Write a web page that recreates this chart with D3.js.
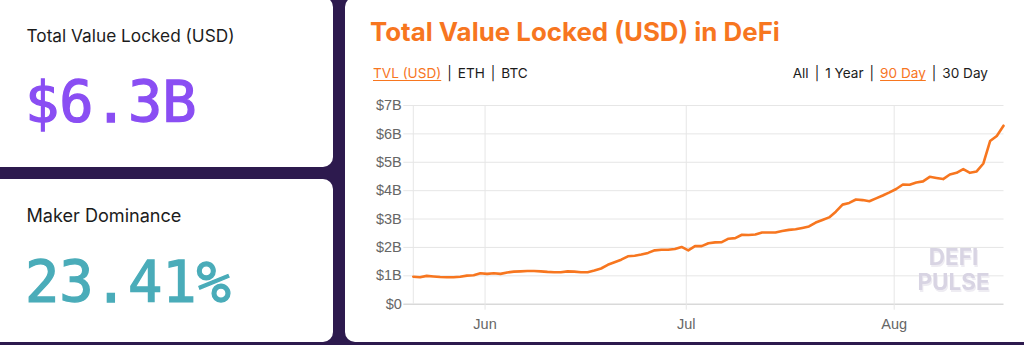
<!DOCTYPE html>
<html>
<head>
<meta charset="utf-8">
<script src="https://cdn.jsdelivr.net/npm/d3@7"></script>
<style>
  html, body { margin: 0; padding: 0; background: #2d1a4e; }
  svg { display: block; }
  text { white-space: pre; }
</style>
</head>
<body>
<svg id="chart" width="1024" height="345"></svg>
<script>
// ---------------- DATA ----------------
const startDate = "2020-05-21T09:00:00";   // first daily point
const tvlBillions = [
  0.95, 0.93, 0.98, 0.96, 0.94, 0.93, 0.93, 0.95, 0.99, 1.00,
  1.07, 1.05, 1.07, 1.05, 1.10, 1.13, 1.14, 1.15, 1.15, 1.14,
  1.12, 1.11, 1.11, 1.14, 1.13, 1.11, 1.11, 1.17, 1.24, 1.37,
  1.46, 1.55, 1.67, 1.69, 1.73, 1.79, 1.88, 1.90, 1.90, 1.93,
  2.00, 1.88, 2.03, 2.03, 2.13, 2.16, 2.17, 2.29, 2.31, 2.43,
  2.42, 2.44, 2.51, 2.51, 2.51, 2.56, 2.60, 2.62, 2.67, 2.72,
  2.86, 2.95, 3.04, 3.24, 3.49, 3.55, 3.67, 3.65, 3.61, 3.71,
  3.81, 3.92, 4.04, 4.20, 4.19, 4.27, 4.31, 4.47, 4.43, 4.39,
  4.55, 4.61, 4.74, 4.61, 4.66, 4.94, 5.73, 5.91, 6.27
];
const yTicks = [0, 1, 2, 3, 4, 5, 6, 7];
const yTickLabels = ["$0", "$1B", "$2B", "$3B", "$4B", "$5B", "$6B", "$7B"];
const xTickLabels = ["Jun", "Jul", "Aug"];
const chartTitle = "Total Value Locked (USD) in DeFi";
const unitLinks = ["TVL (USD)", "ETH", "BTC"];
const rangeLinks = ["All", "1 Year", "90 Day", "30 Day"];
const activeUnit = "TVL (USD)";
const activeRange = "90 Day";
const statLabels = ["Total Value Locked (USD)", "Maker Dominance"];
const statValues = ["$6.3B", "23.41%"];
const watermark = ["DEFI", "PULSE"];

// ---------------- STYLE ----------------
const ORANGE = "#f7761f";
const DARK = "#1c1c1c";
const sansFont = "Inter, 'Open Sans', sans-serif";
const monoFont = "'DejaVu Sans Mono', monospace";
const axisFont = "'Liberation Sans', Arial, sans-serif";

const svg = d3.select("#chart");

const defs = svg.append("defs");
const f = defs.append("filter").attr("id", "wmShadow")
  .attr("x", "-10%").attr("y", "-20%").attr("width", "130%").attr("height", "150%");
f.append("feOffset").attr("in", "SourceAlpha").attr("dx", 1).attr("dy", 1.5).attr("result", "off");
f.append("feFlood").attr("flood-color", "#eeecf2").attr("result", "col");
f.append("feComposite").attr("in", "col").attr("in2", "off").attr("operator", "in").attr("result", "sh");
const fm = f.append("feMerge");
fm.append("feMergeNode").attr("in", "sh");
fm.append("feMergeNode").attr("in", "SourceGraphic");

svg.append("rect").attr("width", 1024).attr("height", 345).attr("fill", "#2d1a4e");

const cards = [
  {x: -12, y: -3, w: 345, h: 170},
  {x: -12, y: 179, w: 345, h: 163},
  {x: 345, y: -3, w: 700, h: 345}
];
svg.selectAll("rect.card").data(cards).join("rect")
  .attr("class", "card")
  .attr("x", d => d.x).attr("y", d => d.y)
  .attr("width", d => d.w).attr("height", d => d.h)
  .attr("rx", 10).attr("fill", "#ffffff");

function fit(sel, width) {
  const node = sel.node();
  const fs = parseFloat(sel.attr("font-size"));
  const w = node.getComputedTextLength();
  sel.attr("font-size", (fs * width / w).toFixed(2));
  return sel;
}

// ---------------- STAT CARDS ----------------
const statLabelPos = [{x: 26.5, y: 42.3, w: 208}, {x: 26.5, y: 222.3, w: 155}];
statLabels.forEach((t, i) => {
  const s = svg.append("text")
    .attr("x", statLabelPos[i].x).attr("y", statLabelPos[i].y)
    .attr("font-family", sansFont).attr("font-size", 17)
    .attr("fill", DARK).text(t);
  fit(s, statLabelPos[i].w);
});
const statValuePos = [{x: 25, y: 121.7, c: "#8a4ef3"}, {x: 25, y: 301.7, c: "#4aacb9"}];
statValues.forEach((t, i) => {
  svg.append("text")
    .attr("x", statValuePos[i].x).attr("y", statValuePos[i].y)
    .attr("font-family", monoFont).attr("font-size", 57)
    .attr("fill", statValuePos[i].c)
    .attr("stroke", statValuePos[i].c).attr("stroke-width", 1.3)
    .text(t);
});

// ---------------- CHART HEADER ----------------
const title = svg.append("text")
  .attr("x", 370).attr("y", 41)
  .attr("font-family", sansFont).attr("font-weight", 700)
  .attr("font-size", 25).attr("fill", ORANGE).text(chartTitle);
fit(title, 410);

function linkRow(items, active, x0, y, gap, anchor) {
  const g = svg.append("g")
    .attr("font-family", sansFont).attr("font-size", 13.6);
  let cx = 0;
  const placed = [];
  items.forEach((it, i) => {
    if (i > 0) {
      const p = g.append("text").attr("x", cx + gap).attr("y", y).attr("fill", DARK).text("|");
      cx += gap + p.node().getComputedTextLength() + gap;
    }
    const t = g.append("text").attr("x", cx).attr("y", y)
      .attr("fill", it === active ? ORANGE : DARK).text(it);
    const w = t.node().getComputedTextLength();
    placed.push({it, x: cx, w});
    cx += w;
  });
  const shift = anchor === "end" ? x0 - cx : x0;
  g.attr("transform", `translate(${shift},0)`);
  const a = placed.find(p => p.it === active);
  g.append("line")
    .attr("x1", a.x).attr("x2", a.x + a.w)
    .attr("y1", y + 3).attr("y2", y + 3)
    .attr("stroke", ORANGE).attr("stroke-width", 1);
}
linkRow(unitLinks, activeUnit, 373, 77.5, 6, "start");
linkRow(rangeLinks, activeRange, 988, 77.5, 6, "end");

// ---------------- PLOT ----------------
const t0 = new Date(startDate);
const dates = tvlBillions.map((v, i) => d3.timeDay.offset(t0, i));
const data = tvlBillions.map((v, i) => ({date: dates[i], value: v}));

const plot = {left: 413.3, right: 1003.5, top: 105, bottom: 303.7};

const x = d3.scaleTime()
  .domain([dates[0], dates[dates.length - 1]])
  .range([plot.left, plot.right]);
const y = d3.scaleLinear()
  .domain([0, 7])
  .range([plot.bottom, plot.top]);

const GRID = "#e6e6e6";

const yAxis = svg.append("g")
  .attr("transform", `translate(${plot.left - 10},0)`)
  .call(d3.axisLeft(y)
    .tickValues(yTicks)
    .tickFormat((d, i) => yTickLabels[i])
    .tickSize(-(plot.right - plot.left + 10))
    .tickPadding(1.5));
yAxis.select(".domain").remove();
yAxis.selectAll(".tick line").attr("stroke", GRID).attr("stroke-width", 1);
yAxis.selectAll(".tick").filter(d => d === 0).select("line")
  .attr("stroke", "#d9d9d9").attr("stroke-width", 1.5);
yAxis.selectAll(".tick text")
  .attr("font-family", axisFont).attr("font-size", 14.5).attr("fill", "#666");

const monthTicks = d3.timeMonth.range(dates[0], dates[dates.length - 1]);
const xAxis = svg.append("g")
  .attr("transform", `translate(0,${plot.bottom + 6})`)
  .call(d3.axisBottom(x)
    .tickValues(monthTicks)
    .tickFormat((d, i) => xTickLabels[i])
    .tickSize(-(plot.bottom + 6 - plot.top))
    .tickPadding(9));
xAxis.select(".domain").remove();
xAxis.selectAll(".tick line").attr("stroke", GRID).attr("stroke-width", 1);
xAxis.selectAll(".tick text")
  .attr("font-family", axisFont).attr("font-size", 14.5).attr("fill", "#666");

svg.append("line")
  .attr("x1", x(dates[0])).attr("x2", x(dates[0]))
  .attr("y1", y(7)).attr("y2", y(0))
  .attr("stroke", GRID).attr("stroke-width", 1);

// watermark (single text with two lines, shadow via filter)
const wm = svg.append("text")
  .attr("font-family", sansFont).attr("font-weight", 700)
  .attr("font-size", 22.5).attr("text-anchor", "middle")
  .attr("fill", "#d8d4e3").attr("filter", "url(#wmShadow)");
wm.append("tspan").attr("x", 953.5).attr("y", 265).text(watermark[0]);
wm.append("tspan").attr("x", 953.5).attr("y", 290).text(watermark[1]);

// line
const line = d3.line()
  .x(d => x(d.date))
  .y(d => y(d.value));
svg.append("path")
  .datum(data)
  .attr("d", line)
  .attr("fill", "none")
  .attr("stroke", ORANGE)
  .attr("stroke-width", 2.6)
  .attr("stroke-linejoin", "round")
  .attr("stroke-linecap", "round");
</script>
</body>
</html>
